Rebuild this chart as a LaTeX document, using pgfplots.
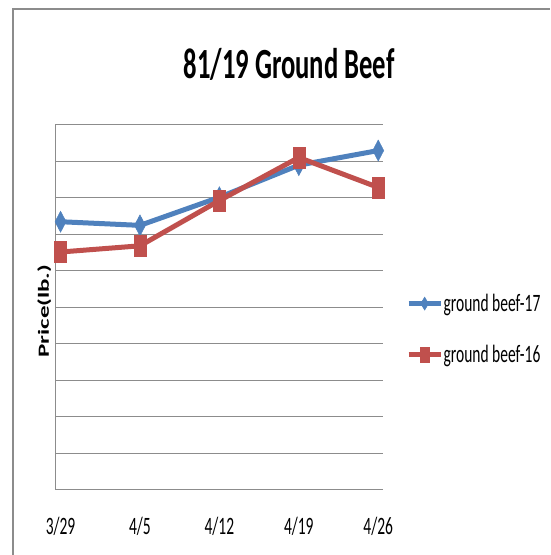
\documentclass[border=0pt]{standalone}
\usepackage{graphicx}
\usepackage{fontspec}
\setmainfont{Carlito}[FakeStretch=0.62]
\newfontfamily\labelfont{Carlito}
\usepackage{pgfplots}
\pgfplotsset{compat=1.18}
\definecolor{c1}{HTML}{4F81BD}
\definecolor{c2}{HTML}{C0504D}
\definecolor{gridgray}{RGB}{140,140,140}
\begin{document}
\begin{tikzpicture}[x=1pt,y=1pt]
\useasboundingbox (0,0) rectangle (550,555);
\draw[gridgray, line width=1.5pt] (13,0) -- (13,546) -- (550,546);
\node[anchor=base, font=\bfseries\fontsize{43}{50}\selectfont] at (289,476) {81/19 Ground Beef};
\begin{axis}[
  at={(55pt,65pt)}, anchor=south west,
  scale only axis, width=328pt, height=365pt,
  xmin=-0.07, xmax=4.06, ymin=0, ymax=10,
  axis x line*=bottom, axis y line*=left,
  axis line style={gridgray, line width=1pt},
  xtick={0,1,2,3,4},
  xticklabels={3/29,4/5,4/12,4/19,4/26},
  ytick={0,1,...,10}, yticklabels={},
  major tick length=0pt,
  ymajorgrids, grid style={gridgray, line width=1pt},
  xticklabel style={anchor=base, yshift=-45pt, font=\fontsize{25}{30}\selectfont},
  ylabel={\scalebox{1}[0.62]{\labelfont\bfseries\fontsize{25}{30}\selectfont Price(lb.)}},
  ylabel style={at={(axis description cs:-0.033,0.49)}, anchor=center},
  legend style={at={(axis description cs:1.07,0.441)}, anchor=west, draw=none, fill=none,
    inner sep=0pt, row sep=31pt, font=\fontsize{25}{30}\selectfont,
    nodes={inner sep=0.5pt}},
  legend cell align=left,
  clip=false,
]
\addplot[c1, line width=5pt, mark=diamond*, mark size=10.5pt,
  mark options={xscale=0.7, line width=0.5pt, fill=c1},
  legend image code/.code={
    \draw[c1, line width=5pt] (0pt,0pt) -- (32pt,0pt);
    \draw[c1, fill=c1, line width=0.5pt, mark=diamond*, mark size=6.5pt, mark options={xscale=0.8}] plot coordinates {(16pt,0pt)};
  }]
coordinates {(0,7.35) (1,7.25) (2,8.02) (3,8.9) (4,9.3)};
\addlegendentry{ground beef-17}
\addplot[c2, line width=5pt, mark=square*, mark size=10.5pt,
  mark options={xscale=0.57, line width=0.5pt, fill=c2},
  legend image code/.code={
    \draw[c2, line width=5pt] (0pt,0pt) -- (32pt,0pt);
    \draw[c2, fill=c2, line width=0.5pt, mark=square*, mark size=7.5pt, mark options={xscale=0.55}] plot coordinates {(16pt,0pt)};
  }]
coordinates {(0,6.52) (1,6.69) (2,7.93) (3,9.11) (4,8.29)};
\addlegendentry{ground beef-16}
\end{axis}
\end{tikzpicture}
\end{document}
